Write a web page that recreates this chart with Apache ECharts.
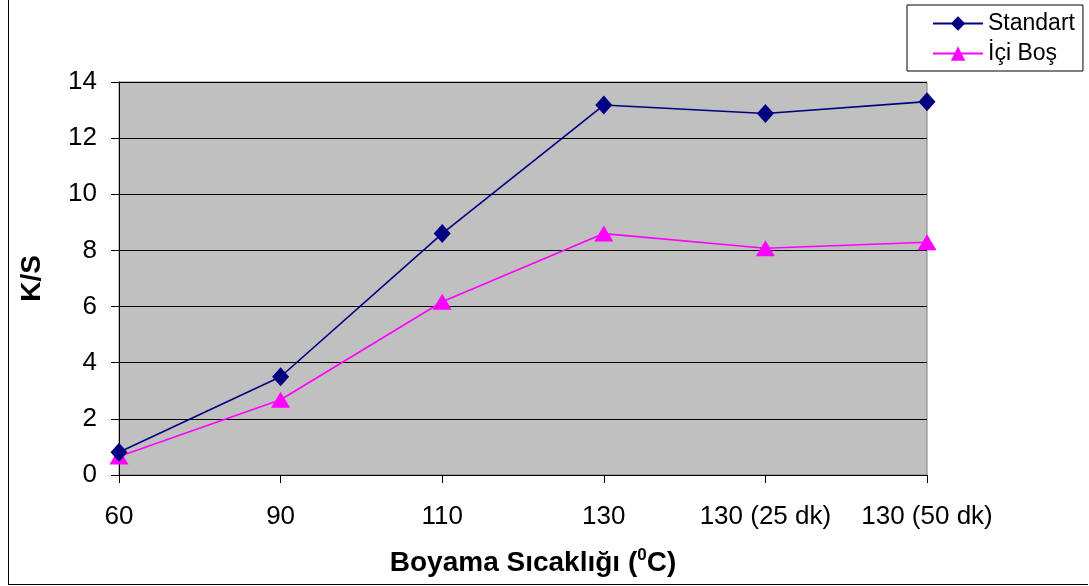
<!DOCTYPE html>
<html>
<head>
<meta charset="utf-8">
<script src="https://cdn.jsdelivr.net/npm/echarts@6/dist/echarts.min.js"></script>
<style>
  html, body { margin: 0; padding: 0; background: #fff; }
  #frame { position: absolute; left: 8px; top: 0; width: 1080px; height: 585px; box-sizing: border-box; border: 1px solid #000; border-top: none; border-right: none; }
  #chart { position: absolute; left: 0; top: 0; width: 1089px; height: 586px; }
</style>
</head>
<body>
<div id="chart"></div>
<div id="frame"></div>
<script>
// Dyeing temperature steps and the K/S values measured at each
const categories = ['60', '90', '110', '130', '130 (25 dk)', '130 (50 dk)'];
const standart = [0.81, 3.5, 8.6, 13.18, 12.88, 13.3];
const iciBos = [0.66, 2.68, 6.17, 8.6, 8.08, 8.29];
const yTicks = { min: 0, max: 14, interval: 2 };

const chart = echarts.init(document.getElementById('chart'), null, { renderer: 'canvas' });
const font = '"Liberation Sans", Arial, sans-serif';

chart.setOption({
  animation: false,
  textStyle: { fontFamily: font },
  grid: {
    left: 119, right: 162, top: 82, bottom: 111,
    show: true, backgroundColor: '#C0C0C0', borderColor: '#808080', borderWidth: 1
  },
  legend: {
    left: 907, top: 5,
    orient: 'vertical',
    itemWidth: 50, itemHeight: 18, itemGap: 7,
    padding: [7, 8, 6, 25],
    borderColor: '#000', borderWidth: 1,
    backgroundColor: '#fff',
    textStyle: { fontSize: 23, lineHeight: 20, color: '#000', fontFamily: font },
    data: ['Standart', 'İçi Boş']
  },
  xAxis: {
    type: 'category',
    data: categories,
    boundaryGap: false,
    axisLine: { lineStyle: { color: '#000', width: 1 } },
    axisTick: { show: true, length: 8, lineStyle: { color: '#000' }, alignWithLabel: true, interval: 0 },
    axisLabel: { fontSize: 26, color: '#000', margin: 29, fontFamily: font, interval: 0, hideOverlap: false },
    splitLine: { show: false },
    name: '{b|Boyama Sıcaklığı (}{s|0}{b|C)}',
    nameLocation: 'middle',
    nameGap: 72,
    nameTextStyle: {
      padding: [0, 0, 0, 20],
      rich: {
        b: { fontSize: 28, fontWeight: 'bold', color: '#000', fontFamily: font, lineHeight: 32 },
        s: { fontSize: 17, fontWeight: 'bold', color: '#000', fontFamily: font, verticalAlign: 'top', lineHeight: 32, padding: [0, 0, 10, 0] }
      }
    }
  },
  yAxis: {
    type: 'value',
    min: yTicks.min, max: yTicks.max, interval: yTicks.interval,
    axisLine: { show: true, lineStyle: { color: '#000', width: 1 } },
    axisTick: { show: true, length: 8, lineStyle: { color: '#000' } },
    axisLabel: { fontSize: 26, color: '#000', margin: 22, fontFamily: font },
    splitLine: { show: true, lineStyle: { color: '#000', width: 1 } },
    name: 'K/S',
    nameLocation: 'middle',
    nameGap: 73,
    nameTextStyle: { fontSize: 28, fontWeight: 'bold', color: '#000', fontFamily: font }
  },
  series: [
    {
      name: 'Standart',
      type: 'line',
      data: standart,
      symbol: 'diamond',
      symbolSize: [17, 19],
      itemStyle: { color: '#000080' },
      lineStyle: { color: '#000080', width: 1.6 },
      z: 3
    },
    {
      name: 'İçi Boş',
      type: 'line',
      data: iciBos,
      symbol: 'triangle',
      symbolSize: [19, 16],
      itemStyle: { color: '#FF00FF' },
      lineStyle: { color: '#FF00FF', width: 1.6 },
      z: 2
    }
  ]
});
</script>
</body>
</html>
